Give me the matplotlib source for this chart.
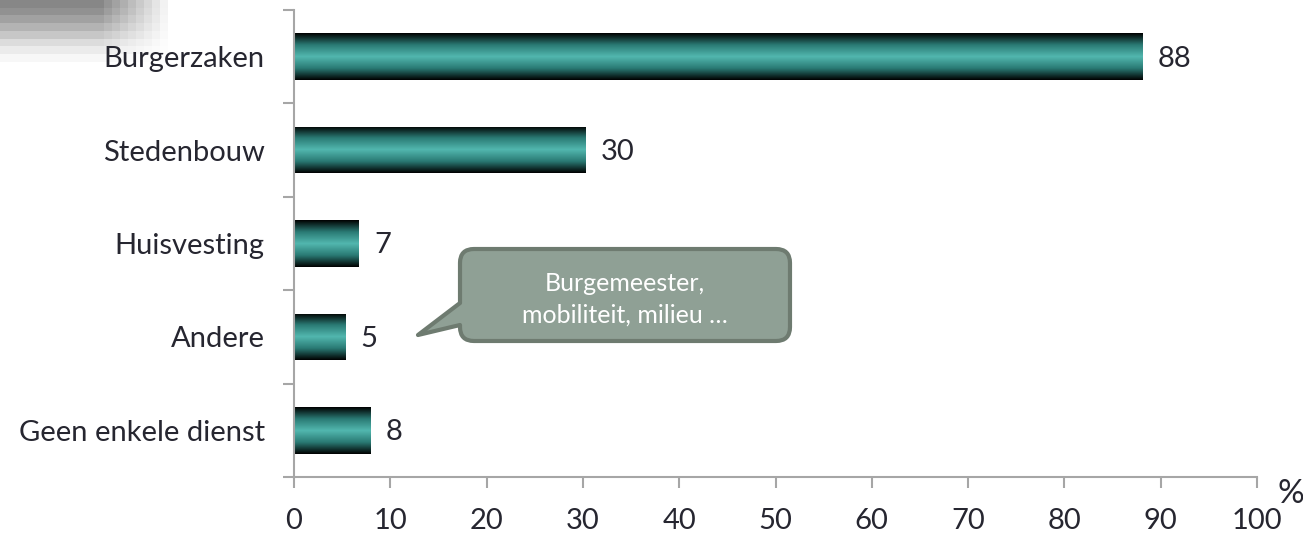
import numpy as np
import matplotlib
matplotlib.use("Agg")
import matplotlib.pyplot as plt
from matplotlib.colors import LinearSegmentedColormap
from matplotlib.patches import Rectangle, PathPatch
from matplotlib.path import Path

categories = ["Burgerzaken", "Stedenbouw", "Huisvesting", "Andere", "Geen enkele dienst"]
values = [88.1, 30.3, 6.7, 5.3, 7.9]
value_labels = ["88", "30", "7", "5", "8"]
x_ticks = [0, 10, 20, 30, 40, 50, 60, 70, 80, 90, 100]
callout_text = "Burgemeester,\nmobiliteit, milieu …"

W, H = 1303, 533
fig = plt.figure(figsize=(W / 100, H / 100), dpi=100)
FONT = ["Lato", "DejaVu Sans"]
plt.rcParams['font.family'] = FONT
TXT = "#262630"

def fx(px):
    return px / W

def fy(py):
    return 1 - py / H

# decorative pixel gradient top-left
row_base = [0.53, 0.57, 0.63, 0.70, 0.78, 0.86, 0.92, 0.965]
ncols = 23
deco = np.ones((len(row_base), ncols))
for r, base in enumerate(row_base):
    for c in range(ncols):
        t = np.clip((c - 12) / 9.0, 0, 1)
        deco[r, c] = min(1.0, base + (1 - base) * t)
axd = fig.add_axes([0, fy(62), fx(184), 62 / H])
axd.imshow(deco, cmap="gray", vmin=0, vmax=1, aspect="auto", interpolation="nearest")
axd.axis("off")

ax = fig.add_axes([fx(294), fy(477), fx(1257) - fx(294), (477 - 10) / H])

cmap = LinearSegmentedColormap.from_list("bar", ["#000000", "#2a7a74", "#52b7af", "#2a7a74", "#000000"])
grad = np.linspace(0, 1, 256).reshape(-1, 1)
bh = 0.5
for i, v in enumerate(values):
    rect = Rectangle((0, i - bh / 2), v, bh, transform=ax.transData, facecolor="none", edgecolor="none")
    ax.add_patch(rect)
    im = ax.imshow(grad, cmap=cmap, aspect="auto", extent=(0, v, i + bh / 2, i - bh / 2),
                   origin="upper", interpolation="bilinear", zorder=2)
    im.set_clip_path(rect)
    ax.text(v + 1.6, i + 0.02, value_labels[i], va="center", ha="left", fontsize=21, color=TXT)

ax.set_xlim(0, 100)
ax.set_ylim(len(categories) - 0.5, -0.5)

ax.set_yticks(range(len(categories)))
ax.set_yticklabels(categories, fontsize=21, color=TXT)
ax.tick_params(axis="y", which="major", length=0, pad=21)
ax.set_yticks(np.arange(-0.5, len(categories), 1.0), minor=True)
ax.tick_params(axis="y", which="minor", length=8, width=1.5, color="#a6a6a6", direction="out")

ax.set_xticks(x_ticks)
ax.set_xticklabels([str(t) for t in x_ticks], fontsize=21, color=TXT)
ax.tick_params(axis="x", length=8, width=1.5, color="#a6a6a6", direction="out", pad=14)

for s in ["top", "right"]:
    ax.spines[s].set_visible(False)
for s in ["left", "bottom"]:
    ax.spines[s].set_color("#a6a6a6")
    ax.spines[s].set_linewidth(1.5)

fig.text(fx(1291), fy(494), "%", fontsize=24, color=TXT, ha="center", va="center")

# callout
L, R, T, B = 460, 790, 249, 341
rr = 14
tip = (418, 335)
b1, b2 = 303, 325
def P(x, y):
    return (fx(x), fy(y))
verts = [P(L + rr, T), P(R - rr, T), P(R, T), P(R, T + rr), P(R, B - rr), P(R, B), P(R - rr, B),
         P(L + rr, B), P(L, B), P(L, B - rr), P(L, b2), P(*tip), P(L, b1), P(L, T + rr), P(L, T), P(L + rr, T),
         P(L + rr, T)]
codes = [Path.MOVETO, Path.LINETO, Path.CURVE3, Path.CURVE3, Path.LINETO, Path.CURVE3, Path.CURVE3,
         Path.LINETO, Path.CURVE3, Path.CURVE3, Path.LINETO, Path.LINETO, Path.LINETO, Path.LINETO,
         Path.CURVE3, Path.CURVE3, Path.CLOSEPOLY]
patch = PathPatch(Path(verts, codes), transform=fig.transFigure, facecolor="#8fa095",
                  edgecolor="#6e7b70", linewidth=3, joinstyle="round", zorder=10)
fig.add_artist(patch)
fig.text(fx(625), fy(299), callout_text, ha="center", va="center", fontsize=18, color="white",
         linespacing=1.45, zorder=11)

fig.savefig("out.png", dpi=100)
